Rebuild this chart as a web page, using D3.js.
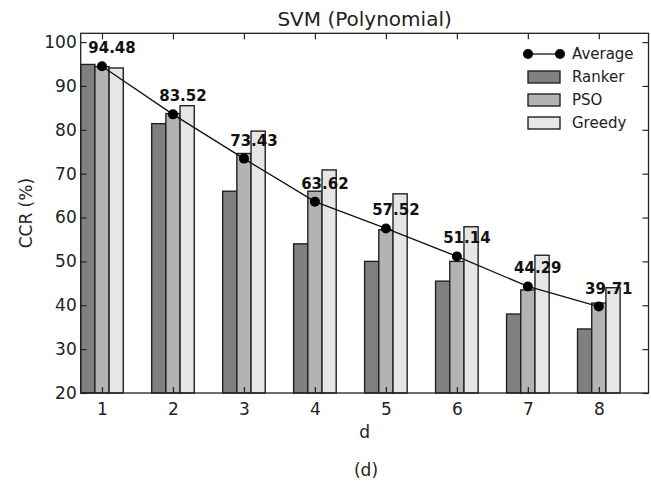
<!doctype html>
<html lang="en">
<head>
  <meta charset="utf-8">
  <title>SVM (Polynomial)</title>
  <style>
    body { margin: 0; background: #fff; }
    text { font-family: "DejaVu Sans", sans-serif; fill: #222; }
  </style>
</head>
<body>
  <div id="chart"></div>
  <script src="https://d3js.org/d3.v7.min.js"></script>
  <script>
    // Data ---------------------------------------------------------------------------------------
    const dims = [1, 2, 3, 4, 5, 6, 7, 8];
    const ranker = [94.9, 81.4, 66.0, 54.0, 50.0, 45.5, 38.0, 34.6];
    const pso = [94.4, 83.7, 74.6, 66.0, 57.2, 50.0, 43.5, 40.5];
    const greedy = [94.1, 85.5, 79.7, 70.85, 65.4, 57.9, 51.4, 44.0];
    const average = [94.48, 83.52, 73.43, 63.62, 57.52, 51.14, 44.29, 39.71];
    const yTicks = [20, 30, 40, 50, 60, 70, 80, 90, 100];

    const series = [
      { name: "Ranker", values: ranker, color: "#808080", offset: -0.3 },
      { name: "PSO", values: pso, color: "#b3b3b3", offset: -0.1 },
      { name: "Greedy", values: greedy, color: "#e6e6e6", offset: 0.1 }
    ];

    // Canvas -------------------------------------------------------------------------------------
    const width = 651;
    const height = 483;
    const plotLeft = 80.7, plotRight = 648.5, plotTop = 33.3, plotBottom = 393;

    const svg = d3.select("#chart")
      .append("svg")
      .attr("width", width)
      .attr("height", height);

    const x = d3.scaleLinear().domain([0.7, 8.7]).range([plotLeft, plotRight]);
    const y = d3.scaleLinear().domain([20, 102]).range([plotBottom, plotTop]);
    const barW = x(0.2) - x(0);

    // Bars ---------------------------------------------------------------------------------------
    series.forEach(s => {
      svg.append("g")
        .selectAll("rect")
        .data(dims)
        .enter()
        .append("rect")
        .attr("x", (d, i) => x(d + s.offset))
        .attr("y", (d, i) => y(s.values[i]))
        .attr("width", barW)
        .attr("height", (d, i) => y(20) - y(s.values[i]))
        .style("fill", s.color)
        .style("stroke", "#222")
        .style("stroke-width", 1.4);
    });

    // Average line -------------------------------------------------------------------------------
    const line = d3.line()
      .x((d, i) => x(dims[i]))
      .y(d => y(d));

    svg.append("path")
      .datum(average)
      .attr("d", line)
      .style("fill", "none")
      .style("stroke", "#111")
      .style("stroke-width", 1.3);

    svg.append("g")
      .selectAll("circle")
      .data(average)
      .enter()
      .append("circle")
      .attr("cx", (d, i) => x(dims[i]))
      .attr("cy", d => y(d))
      .attr("r", 5)
      .style("fill", "#000");

    svg.append("g")
      .selectAll("text")
      .data(average)
      .enter()
      .append("text")
      .attr("x", (d, i) => x(dims[i]) + 10)
      .attr("y", d => y(d) - 13)
      .attr("text-anchor", "middle")
      .style("font-size", "15px")
      .style("font-weight", "bold")
      .style("fill", "#111")
      .text(d => d.toFixed(2));

    // Axes frame and ticks -----------------------------------------------------------------------
    const axisColor = "#222";
    const tickLen = 6;

    const axisBottom = svg.append("g")
      .attr("transform", "translate(0," + plotBottom + ")")
      .call(d3.axisBottom(x).tickValues(dims).tickSize(-tickLen).tickPadding(10).tickFormat(d3.format("d")));
    const axisTop = svg.append("g")
      .attr("transform", "translate(0," + plotTop + ")")
      .call(d3.axisTop(x).tickValues(dims).tickSize(-tickLen).tickFormat(""));
    const axisLeft = svg.append("g")
      .attr("transform", "translate(" + plotLeft + ",0)")
      .call(d3.axisLeft(y).tickValues(yTicks).tickSize(-tickLen).tickPadding(4));
    const axisRight = svg.append("g")
      .attr("transform", "translate(" + plotRight + ",0)")
      .call(d3.axisRight(y).tickValues(yTicks).tickSize(-tickLen).tickFormat(""));

    [axisBottom, axisTop, axisLeft, axisRight].forEach(a => {
      a.select(".domain").remove();
      a.selectAll("line").style("stroke", axisColor).style("stroke-width", 1.2);
      a.selectAll("text")
        .style("font-family", "'DejaVu Sans', sans-serif")
        .style("font-size", "17px")
        .style("fill", "#222");
    });

    svg.append("rect")
      .attr("x", plotLeft)
      .attr("y", plotTop)
      .attr("width", plotRight - plotLeft)
      .attr("height", plotBottom - plotTop)
      .style("fill", "none")
      .style("stroke", axisColor)
      .style("stroke-width", 1.3);

    // Titles and labels --------------------------------------------------------------------------
    svg.append("text")
      .attr("x", (plotLeft + plotRight) / 2)
      .attr("y", 26)
      .attr("text-anchor", "middle")
      .style("font-size", "20px")
      .text("SVM (Polynomial)");

    svg.append("text")
      .attr("transform", "translate(32," + ((plotTop + plotBottom) / 2) + ") rotate(-90)")
      .attr("text-anchor", "middle")
      .style("font-size", "17px")
      .text("CCR (%)");

    svg.append("text")
      .attr("x", (plotLeft + plotRight) / 2)
      .attr("y", 438)
      .attr("text-anchor", "middle")
      .style("font-size", "17px")
      .text("d");

    svg.append("text")
      .attr("x", 366)
      .attr("y", 476)
      .attr("text-anchor", "middle")
      .style("font-size", "17px")
      .text("(d)");

    // Legend -------------------------------------------------------------------------------------
    const legend = svg.append("g").attr("transform", "translate(528,54)");
    const rowH = 23;

    legend.append("line")
      .attr("x1", 0).attr("x2", 32).attr("y1", 0).attr("y2", 0)
      .style("stroke", "#111").style("stroke-width", 1.3);
    [0, 32].forEach(cx => {
      legend.append("circle").attr("cx", cx).attr("cy", 0).attr("r", 5).style("fill", "#000");
    });

    series.forEach((s, i) => {
      legend.append("rect")
        .attr("x", 0)
        .attr("y", (i + 1) * rowH - 6)
        .attr("width", 32)
        .attr("height", 12)
        .style("fill", s.color)
        .style("stroke", "#222")
        .style("stroke-width", 1.4);
    });

    const legendNames = ["Average"].concat(series.map(s => s.name));
    legend.selectAll("text.leg")
      .data(legendNames)
      .enter()
      .append("text")
      .attr("class", "leg")
      .attr("x", 44)
      .attr("y", (d, i) => i * rowH)
      .attr("dy", "0.36em")
      .style("font-size", "15px")
      .text(d => d);
  </script>
</body>
</html>
